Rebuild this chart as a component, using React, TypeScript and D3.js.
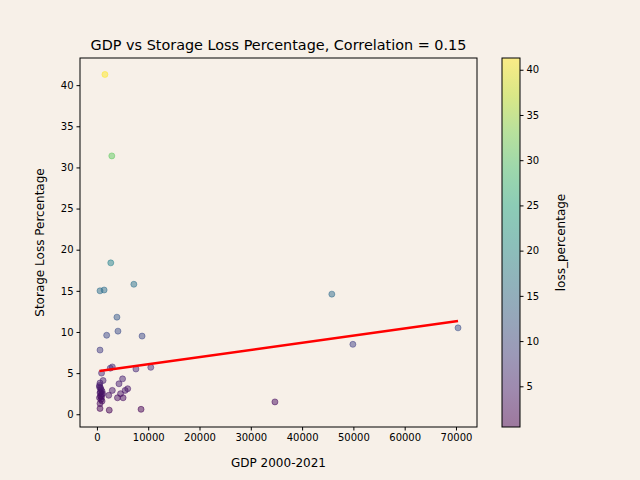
import React, { useEffect, useRef } from 'react';
import * as d3 from 'd3';

// GDP (x) and storage loss percentage (y)
const gdp = [1560, 2900, 2700, 7200, 600, 1400, 45800, 70400, 49900, 3900, 4100, 1900, 8800, 600,
  3000, 2600, 7600, 10500, 5000, 4300, 3000, 6000, 5500, 4600, 4000, 5100, 2300, 2400, 8600, 600, 600,
  900, 1200, 34700, 500, 700, 800, 1000, 600, 900, 700, 500, 800, 1000, 600, 700, 900, 1100, 500];
const loss = [41.3, 31.4, 18.4, 15.8, 15.0, 15.1, 14.6, 10.5, 8.5, 11.8, 10.1, 9.6, 9.5, 7.8,
  5.75, 5.6, 5.5, 5.7, 4.3, 3.7, 2.9, 3.1, 2.9, 2.5, 2.0, 2.0, 2.3, 0.5, 0.6, 0.7, 1.3,
  5.0, 4.1, 1.5, 3.5, 3.2, 3.0, 2.8, 2.6, 2.4, 2.2, 2.0, 1.8, 1.6, 3.8, 2.7, 2.1, 2.5, 3.3];
// fitted line as seen in the picture
const fitIntercept = 5.2;
const fitSlope = 8.7e-5;
const xTicks = [0, 10000, 20000, 30000, 40000, 50000, 60000, 70000];
const yTicks = [0, 5, 10, 15, 20, 25, 30, 35, 40];
const cTicks = [5, 10, 15, 20, 25, 30, 35, 40];

const App: React.FC = () => {
  const ref = useRef<SVGSVGElement | null>(null);

  useEffect(() => {
    const svg = d3.select(ref.current);
    svg.selectAll('*').remove();
    const m = { left: 80, right: 477, top: 58, bottom: 427 };
    const x = d3.scaleLinear().domain([-3300, 74100]).range([m.left, m.right]);
    const y = d3.scaleLinear().domain([-1.55, 43.3]).range([m.bottom, m.top]);
    const cMin = d3.min(loss)!, cMax = d3.max(loss)!;
    const color = d3.scaleSequential(d3.interpolateViridis).domain([cMin, cMax]);
    const font = 'DejaVu Sans, sans-serif';

    svg.append('rect').attr('width', 640).attr('height', 480).attr('fill', '#f7f0e8');

    const pts = gdp.map((g, i) => ({ g, l: loss[i] }));
    svg.append('g').selectAll('circle').data(pts).enter().append('circle')
      .attr('cx', d => x(d.g)).attr('cy', d => y(d.l)).attr('r', 3)
      .attr('fill', d => color(d.l)).attr('fill-opacity', 0.5)
      .attr('stroke', d => color(d.l)).attr('stroke-opacity', 0.5);

    const gMin = d3.min(gdp)!, gMax = d3.max(gdp)!;
    svg.append('line').attr('x1', x(gMin)).attr('y1', y(fitIntercept + fitSlope * gMin))
      .attr('x2', x(gMax)).attr('y2', y(fitIntercept + fitSlope * gMax))
      .attr('stroke', 'red').attr('stroke-width', 2.5);

    svg.append('rect').attr('x', m.left).attr('y', m.top).attr('width', m.right - m.left)
      .attr('height', m.bottom - m.top).attr('fill', 'none').attr('stroke', 'black');

    const xa = svg.append('g').attr('transform', `translate(0,${m.bottom})`)
      .call(d3.axisBottom(x).tickValues(xTicks).tickFormat(d => String(d)).tickSize(3.5).tickSizeOuter(0));
    const ya = svg.append('g').attr('transform', `translate(${m.left},0)`)
      .call(d3.axisLeft(y).tickValues(yTicks).tickSize(3.5).tickSizeOuter(0));
    [xa, ya].forEach(a => {
      a.select('.domain').remove();
      a.selectAll('text').attr('font-size', 10).attr('font-family', font).attr('fill', 'black');
    });

    svg.append('text').attr('x', (m.left + m.right) / 2).attr('y', 467).attr('text-anchor', 'middle')
      .attr('font-size', 12).attr('font-family', font).text('GDP 2000-2021');
    svg.append('text').attr('transform', `translate(44,${(m.top + m.bottom) / 2}) rotate(-90)`)
      .attr('text-anchor', 'middle').attr('font-size', 12).attr('font-family', font).text('Storage Loss Percentage');
    svg.append('text').attr('x', (m.left + m.right) / 2).attr('y', 50).attr('text-anchor', 'middle')
      .attr('font-size', 14.4).attr('font-family', font).text('GDP vs Storage Loss Percentage, Correlation = 0.15');

    // colorbar
    const cb = { x: 502, w: 18 };
    const cy = d3.scaleLinear().domain([cMin, cMax]).range([m.bottom, m.top]);
    const grad = svg.append('defs').append('linearGradient').attr('id', 'cbg')
      .attr('x1', 0).attr('y1', 1).attr('x2', 0).attr('y2', 0);
    d3.range(0, 1.01, 0.1).forEach(t => grad.append('stop').attr('offset', t)
      .attr('stop-color', d3.interpolateViridis(t)));
    svg.append('rect').attr('x', cb.x).attr('y', m.top).attr('width', cb.w).attr('height', m.bottom - m.top)
      .attr('fill', 'url(#cbg)').attr('fill-opacity', 0.5);
    svg.append('rect').attr('x', cb.x).attr('y', m.top).attr('width', cb.w).attr('height', m.bottom - m.top)
      .attr('fill', 'none').attr('stroke', 'black');
    const ca = svg.append('g').attr('transform', `translate(${cb.x + cb.w},0)`)
      .call(d3.axisRight(cy).tickValues(cTicks).tickSize(3.5).tickSizeOuter(0));
    ca.select('.domain').remove();
    ca.selectAll('text').attr('font-size', 10).attr('font-family', font).attr('fill', 'black');
    svg.append('text').attr('transform', `translate(565,${(m.top + m.bottom) / 2}) rotate(-90)`)
      .attr('text-anchor', 'middle').attr('font-size', 12).attr('font-family', font).text('loss_percentage');
  }, []);

  return <svg ref={ref} width={640} height={480} style={{ position: 'absolute', left: 0, top: 0 }} />;
};

export default App;
